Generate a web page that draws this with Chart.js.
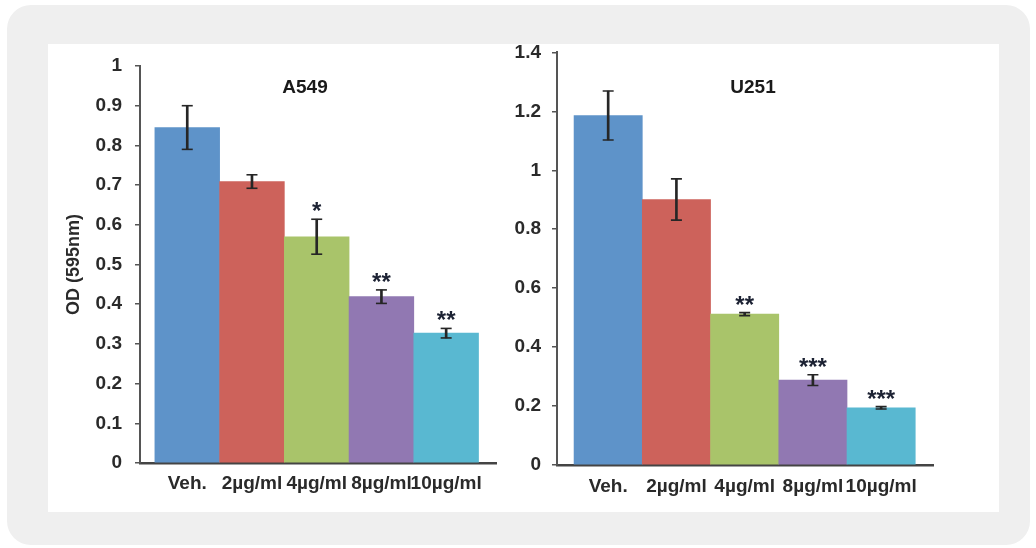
<!DOCTYPE html>
<html>
<head>
<meta charset="utf-8">
<script src="https://cdn.jsdelivr.net/npm/chart.js@4.4.0/dist/chart.umd.min.js"></script>
<style>
  html, body { margin: 0; padding: 0; background: #ffffff; }
  body { width: 1036px; height: 548px; position: relative; overflow: hidden; }
  .frame { position: absolute; left: 7px; top: 5px; width: 1023px; height: 540px; background: #efefef; border-radius: 24px; }
  .panel { position: absolute; left: 48px; top: 44px; width: 951px; height: 468px; background: #ffffff; }
  #a549 { position: absolute; left: 48px; top: 30px; }
  #u251 { position: absolute; left: 505px; top: 30px; }
</style>
</head>
<body>
<div class="frame"></div>
<div class="panel"></div>
<canvas id="a549" width="457" height="482"></canvas>
<canvas id="u251" width="494" height="482"></canvas>
<script>
// Treatment groups (shared by both cell lines)
const categories = ['Veh.', '2µg/ml', '4µg/ml', '8µg/ml', '10µg/ml'];

// A549: mean OD and error
const a549Mean = [0.845, 0.709, 0.570, 0.419, 0.327];
const a549Err = [0.055, 0.017, 0.044, 0.017, 0.012];
const a549Stars = ['', '', '*', '**', '**'];
const a549Ticks = ['0', '0.1', '0.2', '0.3', '0.4', '0.5', '0.6', '0.7', '0.8', '0.9', '1'];

// U251: mean OD and error
const u251Mean = [1.186, 0.901, 0.512, 0.288, 0.194];
const u251Err = [0.083, 0.070, 0.005, 0.018, 0.004];
const u251Stars = ['', '', '**', '***', '***'];
const u251Ticks = ['0', '0.2', '0.4', '0.6', '0.8', '1', '1.2', '1.4'];

const barColors = ['#5e93c9', '#cd625b', '#a9c46a', '#9178b2', '#59b8d1'];
const inkColor = '#262626';
const textColor = '#2a2a2a';
const fontFamily = '"Liberation Sans", Arial, sans-serif';
const tickFont = { family: fontFamily, size: 19, weight: 'bold' };

// Chart title and significance marks drawn on top of the bars
function annotations(p) {
  return {
    id: 'annotations',
    afterDatasetsDraw(chart) {
      const { ctx, scales: { x, y } } = chart;
      ctx.save();
      ctx.fillStyle = '#1a1a1a';
      ctx.textAlign = 'center';
      ctx.textBaseline = 'middle';
      ctx.font = 'bold 19px ' + fontFamily;
      ctx.fillText(p.title, p.titleX, p.titleY);
      ctx.fillStyle = '#1c2233';
      ctx.font = 'bold 24px ' + fontFamily;
      ctx.textBaseline = 'alphabetic';
      p.stars.forEach((s, i) => {
        if (!s) return;
        const px = x.getPixelForValue(i);
        const py = y.getPixelForValue(p.mean[i] + p.err[i]);
        ctx.fillText(s, px, py);
      });
      ctx.restore();
    }
  };
}

function makeChart(id, p) {
  const capData = [];
  categories.forEach((c, i) => {
    capData.push({ x: i, y: p.mean[i] + p.err[i] });
    capData.push({ x: i, y: p.mean[i] - p.err[i] });
  });
  return new Chart(document.getElementById(id), {
    type: 'bar',
    data: {
      datasets: [
        {
          data: categories.map((c, i) => ({ x: i, y: p.mean[i] })),
          backgroundColor: barColors,
          borderWidth: 0,
          categoryPercentage: 1,
          barPercentage: 1,
          grouped: false,
          order: 2
        },
        {
          data: categories.map((c, i) => ({ x: i, y: [p.mean[i] - p.err[i], p.mean[i] + p.err[i]] })),
          backgroundColor: inkColor,
          borderWidth: 0,
          barThickness: 2,
          grouped: false,
          order: 1
        },
        {
          type: 'scatter',
          data: capData,
          pointStyle: 'line',
          pointRadius: 5.5,
          borderColor: inkColor,
          borderWidth: 1.6,
          order: 0
        }
      ]
    },
    options: {
      responsive: false,
      animation: false,
      events: [],
      layout: { padding: p.padding },
      plugins: { legend: { display: false }, tooltip: { enabled: false }, title: { display: false } },
      scales: {
        x: {
          type: 'linear',
          min: p.xMin,
          max: p.xMax,
          offset: false,
          afterBuildTicks: (s) => { s.ticks = categories.map((c, i) => ({ value: i })); },
          afterFit: (s) => { s.height = p.xHeight; },
          grid: { display: false, drawTicks: false },
          border: { display: true, color: '#444444', width: 2.5 },
          ticks: {
            autoSkip: false,
            maxRotation: 0,
            minRotation: 0,
            padding: p.xPad,
            color: textColor,
            font: tickFont,
            callback: (v, i) => categories[i]
          }
        },
        y: {
          min: 0,
          max: p.yMax,
          afterFit: (s) => { s.width = p.yWidth; },
          grid: { drawOnChartArea: false, drawTicks: true, tickLength: 5, color: '#555555', lineWidth: 1.5 },
          border: { display: true, color: '#555555', width: 2 },
          ticks: {
            stepSize: p.yStep,
            padding: p.yPad,
            color: textColor,
            font: tickFont,
            callback: (v) => p.ticks.find((t) => Math.abs(parseFloat(t) - v) < 1e-6) ?? ''
          },
          title: {
            display: !!p.yTitle,
            text: p.yTitle || '',
            color: textColor,
            padding: 0,
            font: { family: fontFamily, size: 18, weight: 'bold' }
          }
        }
      }
    },
    plugins: [annotations(p)]
  });
}

makeChart('a549', {
  mean: a549Mean, err: a549Err, stars: a549Stars, ticks: a549Ticks,
  title: 'A549', titleX: 257, titleY: 58,
  yMax: 1, yStep: 0.1, yTitle: 'OD (595nm)',
  xMin: -0.73, xMax: 4.77,
  padding: { left: 15, top: 36, right: 9, bottom: 0 },
  yWidth: 77, xHeight: 49, xPad: 9, yPad: 13
});

makeChart('u251', {
  mean: u251Mean, err: u251Err, stars: u251Stars, ticks: u251Ticks,
  title: 'U251', titleX: 248, titleY: 58,
  yMax: 1.4, yStep: 0.2, yTitle: '',
  xMin: -0.75, xMax: 4.76,
  padding: { left: 0, top: 22, right: 66, bottom: 0 },
  yWidth: 52, xHeight: 47, xPad: 10, yPad: 11
});
</script>
</body>
</html>
